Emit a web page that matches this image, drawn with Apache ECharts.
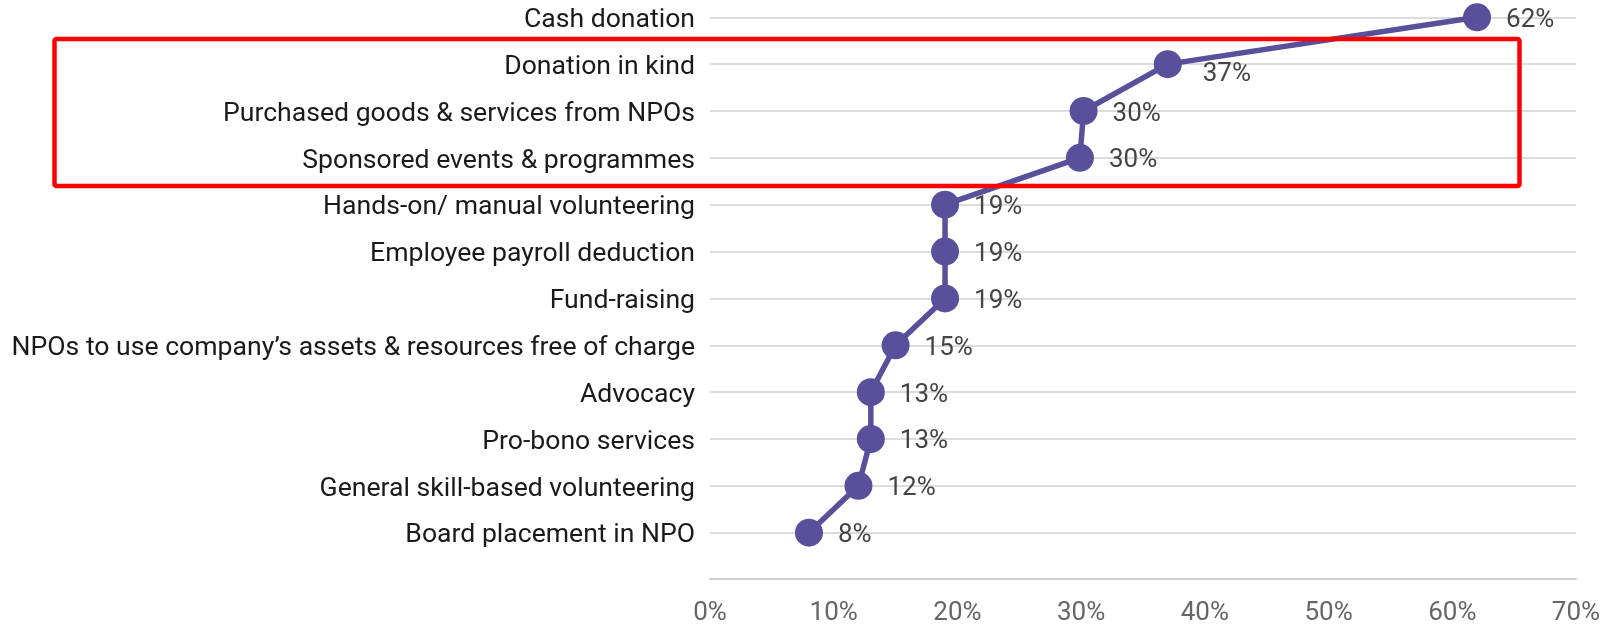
<!DOCTYPE html>
<html>
<head>
<meta charset="utf-8">
<script src="https://cdn.jsdelivr.net/npm/echarts@6/dist/echarts.min.js"></script>
<style>
  html, body { margin: 0; padding: 0; background: #fff; }
  #chart { width: 1612px; height: 626px; }
</style>
</head>
<body>
<div id="chart"></div>
<script>
// engagement types, top to bottom
var categories = [
    'Cash donation',
    'Donation in kind',
    'Purchased goods & services from NPOs',
    'Sponsored events & programmes',
    'Hands-on/ manual volunteering',
    'Employee payroll deduction',
    'Fund-raising',
    'NPOs to use company\u2019s assets & resources free of charge',
    'Advocacy',
    'Pro-bono services',
    'General skill-based volunteering',
    'Board placement in NPO'
];
// share of companies (%)
var shares = [62, 37, 30.2, 29.9, 19, 19, 19, 15, 13, 13, 12, 8];
var xTicks = [0, 10, 20, 30, 40, 50, 60, 70];

var purple = '#58509a';

var seriesData = shares.map(function (v, i) {
    var item = { value: v };
    if (i === 1) {
        item.label = { offset: [6, 10] };   // 37% sits a bit lower
    }
    return item;
});

var myChart = echarts.init(document.getElementById('chart'));

var option = {
    animation: false,
    textStyle: { fontFamily: 'Roboto' },
    grid: {
        left: 710,
        right: 36,
        top: 17.3,
        bottom: 93
    },
    xAxis: {
        type: 'value',
        min: xTicks[0],
        max: xTicks[xTicks.length - 1],
        interval: 10,
        offset: 46.3,
        axisLine: { show: true, lineStyle: { color: '#cfcfcf', width: 2 } },
        axisTick: { show: false },
        splitLine: { show: false },
        axisLabel: {
            formatter: '{value}%',
            color: '#666',
            fontSize: 26,
            margin: 21
        }
    },
    yAxis: {
        type: 'category',
        data: categories,
        inverse: true,
        boundaryGap: false,
        axisLine: { show: false },
        axisTick: { show: false },
        axisLabel: {
            color: '#1a1a1a',
            fontSize: 26.6,
            margin: 15,
            formatter: function (v) { return '{t|' + v + '}'; },
            rich: {
                t: {
                    color: '#1a1a1a',
                    fontSize: 26.6,
                    padding: [6, 0, 0, 0]
                }
            }
        },
        splitLine: {
            show: true,
            lineStyle: { color: '#dcdcdc', width: 2 }
        }
    },
    series: [
        {
            type: 'line',
            data: seriesData,
            symbol: 'circle',
            symbolSize: 28,
            lineStyle: { color: purple, width: 5.5 },
            itemStyle: { color: purple },
            label: {
                show: true,
                position: 'right',
                distance: 15,
                offset: [0, 3],
                color: '#444',
                fontSize: 26,
                formatter: function (p) {
                    return Math.round(p.value) + '%';
                }
            }
        }
    ],
    graphic: [
        {
            type: 'rect',
            shape: { x: 54.5, y: 39, width: 1465, height: 147, r: 2 },
            style: { fill: null, stroke: '#ff0000', lineWidth: 4.5 },
            z: 100
        }
    ]
};

myChart.setOption(option);
</script>
</body>
</html>
